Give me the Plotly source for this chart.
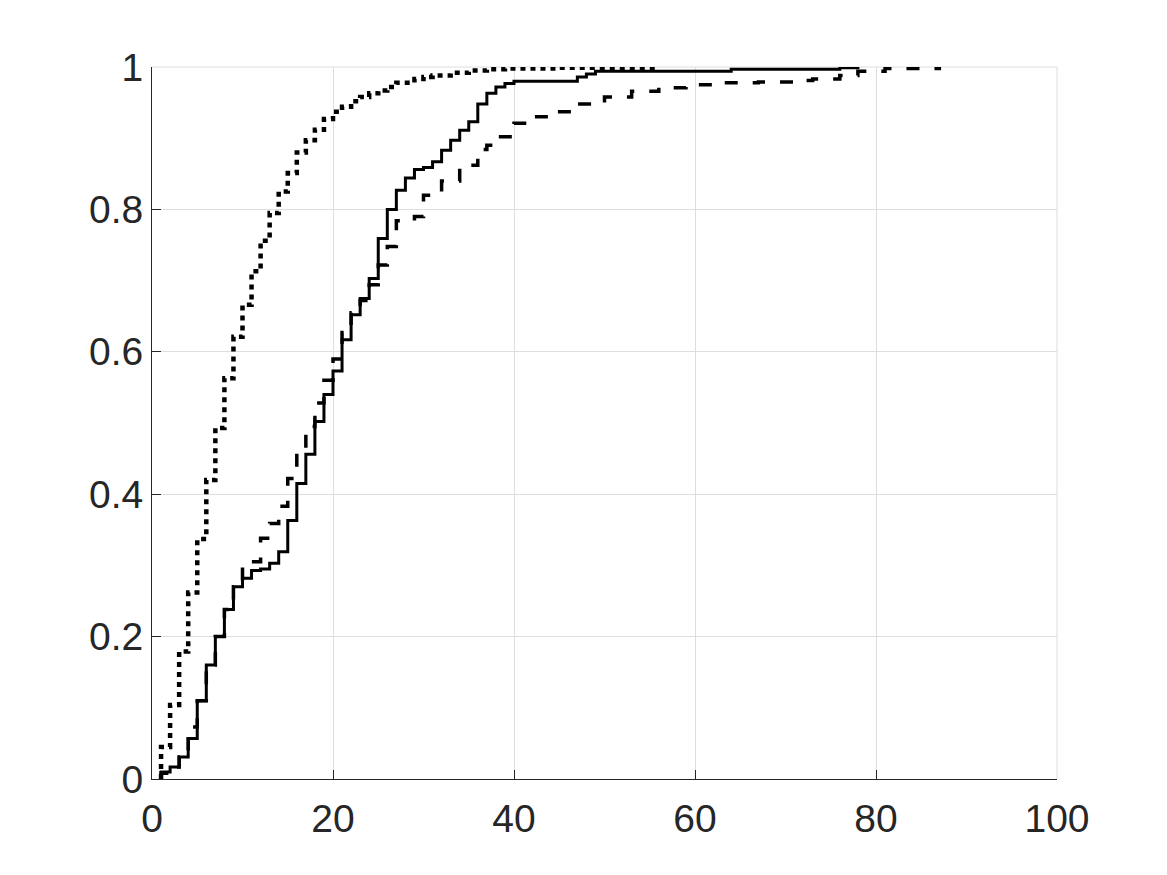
import plotly.graph_objects as go

solid_x = [1, 2, 3, 4, 5, 6, 7, 8, 9, 10, 11, 12, 13, 14, 15, 16, 17, 18, 19, 20,
           21, 22, 23, 24, 25, 26, 27, 28, 29, 30, 31, 32, 33, 34, 35, 36, 37, 38, 39, 40,
           47, 48, 49, 64, 76, 78]
solid_F = [0.010, 0.017, 0.031, 0.057, 0.110, 0.160, 0.200, 0.238, 0.270, 0.282, 0.293, 0.295,
           0.303, 0.319, 0.363, 0.415, 0.456, 0.502, 0.540, 0.573,
           0.617, 0.652, 0.675, 0.703, 0.759, 0.800, 0.827, 0.844, 0.856, 0.859, 0.867, 0.883,
           0.897, 0.911, 0.923, 0.948, 0.963, 0.972, 0.977, 0.980,
           0.986, 0.990, 0.994, 0.997, 0.999, 1.000]

dashed_x = [1, 2, 3, 4, 5, 6, 7, 8, 9, 10, 11, 12, 13, 14, 15, 16, 17, 18, 19, 20,
            21, 22, 23, 24, 25, 26, 27, 29, 30, 32, 34, 36, 37, 38, 40, 42, 44, 47, 50, 53,
            56, 59, 62, 67, 71, 73, 76, 78, 81, 87]
dashed_F = [0.008, 0.017, 0.031, 0.073, 0.110, 0.160, 0.200, 0.238, 0.270, 0.298, 0.305, 0.338,
            0.359, 0.383, 0.422, 0.460, 0.495, 0.528, 0.560, 0.590,
            0.627, 0.655, 0.672, 0.694, 0.722, 0.748, 0.784, 0.790, 0.820, 0.840, 0.862, 0.884,
            0.890, 0.902, 0.921, 0.930, 0.937, 0.948, 0.958, 0.966,
            0.971, 0.975, 0.978, 0.979, 0.981, 0.983, 0.988, 0.994, 0.998, 1.000]

dotted_x = [1, 2, 3, 4, 5, 6, 7, 8, 9, 10, 11, 12, 13, 14, 15, 16, 17, 18, 19, 20,
            21, 22, 23, 24, 25, 26, 27, 29, 30, 31, 33, 35, 37, 39, 45, 56]
dotted_F = [0.045, 0.104, 0.179, 0.262, 0.337, 0.420, 0.493, 0.563, 0.621, 0.666, 0.713, 0.756,
            0.795, 0.825, 0.851, 0.880, 0.897, 0.912, 0.927, 0.937,
            0.944, 0.952, 0.958, 0.963, 0.967, 0.972, 0.978, 0.983, 0.986, 0.988, 0.992, 0.995,
            0.997, 0.998, 0.999, 1.000]

x_ticks = [0, 20, 40, 60, 80, 100]
y_ticks = [0, 0.2, 0.4, 0.6, 0.8, 1]

INK = "#262626"
GRID = "#dedede"


def stairs(xs, fs):
    return [xs[0]] + list(xs), [0.0] + list(fs)


fig = go.Figure()
for xs, fs, dash, w in [
    (dashed_x, dashed_F, "13px,15px", 3.5),
    (solid_x, solid_F, "solid", 3),
    (dotted_x, dotted_F, "5px,5px", 4.5),
]:
    sx, sy = stairs(xs, fs)
    fig.add_trace(go.Scatter(x=sx, y=sy, mode="lines", line_shape="hv",
                             line=dict(color="black", width=w, dash=dash),
                             showlegend=False, hoverinfo="skip"))

axis_common = dict(
    showline=True, linecolor=INK, linewidth=1,
    ticks="inside", ticklen=9, tickcolor=INK, tickwidth=1,
    showgrid=True, gridcolor=GRID, gridwidth=1,
    zeroline=False, mirror=False,
    tickfont=dict(family="Liberation Sans, Arial, sans-serif", size=39, color=INK),
)

fig.update_layout(
    width=1167, height=875,
    margin=dict(l=152, r=110, t=67, b=96),
    paper_bgcolor="white", plot_bgcolor="white",
    xaxis=dict(range=[0, 100], tickvals=x_ticks, ticklabelstandoff=5, **axis_common),
    yaxis=dict(range=[0, 1], tickvals=y_ticks, **axis_common),
)

# light grey frame on the top and right edges (grid lines at x=100 and y=1)
fig.add_shape(type="line", xref="paper", yref="paper", x0=0, x1=1, y0=1, y1=1,
              line=dict(color=GRID, width=1), layer="below")
fig.add_shape(type="line", xref="paper", yref="paper", x0=1, x1=1, y0=0, y1=1,
              line=dict(color=GRID, width=1), layer="below")

fig.write_html("out.html")
